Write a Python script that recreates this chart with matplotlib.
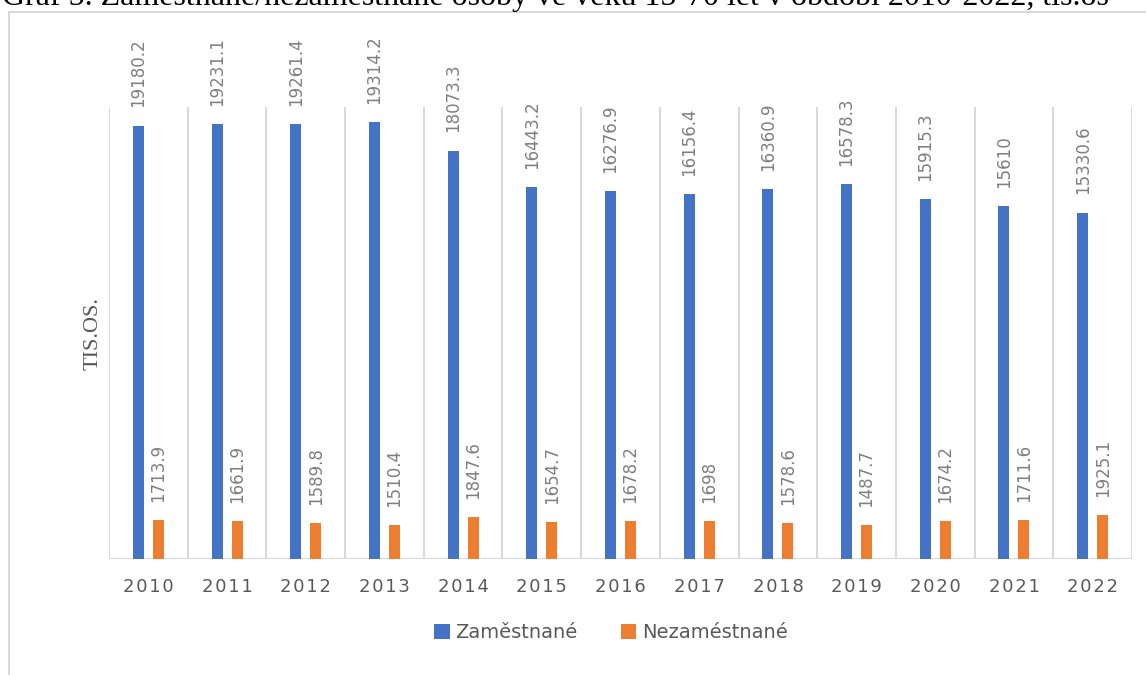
import matplotlib.pyplot as plt
import matplotlib.patches as patches
import numpy as np

# Data
years = ['2010', '2011', '2012', '2013', '2014', '2015', '2016',
         '2017', '2018', '2019', '2020', '2021', '2022']
employed = [19180.2, 19231.1, 19261.4, 19314.2, 18073.3, 16443.2, 16276.9,
            16156.4, 16360.9, 16578.3, 15915.3, 15610, 15330.6]
unemployed = [1713.9, 1661.9, 1589.8, 1510.4, 1847.6, 1654.7, 1678.2,
              1698, 1578.6, 1487.7, 1674.2, 1711.6, 1925.1]
labels_emp = ['19180.2', '19231.1', '19261.4', '19314.2', '18073.3', '16443.2', '16276.9',
              '16156.4', '16360.9', '16578.3', '15915.3', '15610', '15330.6']
labels_unemp = ['1713.9', '1661.9', '1589.8', '1510.4', '1847.6', '1654.7', '1678.2',
                '1698', '1578.6', '1487.7', '1674.2', '1711.6', '1925.1']

BLUE = '#4472C4'
ORANGE = '#ED7D31'
GRID = '#d9d9d9'
TXT = '#595959'

W, H = 1146, 675
fig = plt.figure(figsize=(W / 100, H / 100), dpi=100)
ax = fig.add_axes([109 / W, 1 - 559 / H, (1132 - 109) / W, (559 - 107) / H])

x = np.arange(len(years))
bw = 0.14
off = 0.127
ax.bar(x - off, employed, width=bw, color=BLUE, label='Zaměstnané', zorder=3)
ax.bar(x + off, unemployed, width=bw, color=ORANGE, label='Nezaméstnané', zorder=3)

for xi, v, t in zip(x, employed, labels_emp):
    ax.annotate(t, (xi - off, v), xytext=(0, 13), textcoords='offset points',
                rotation=90, ha='center', va='bottom', fontsize=12, color='#7f7f7f')
for xi, v, t in zip(x, unemployed, labels_unemp):
    ax.annotate(t, (xi + off, v), xytext=(0, 13), textcoords='offset points',
                rotation=90, ha='center', va='bottom', fontsize=12, color='#7f7f7f')

ax.set_xlim(-0.5, len(years) - 0.5)
ax.set_ylim(0, 20000)

# category separators
for b in np.arange(-0.5, len(years), 1.0):
    ax.axvline(b, color=GRID, lw=1.5, zorder=1)
ax.axhline(0, color=GRID, lw=1.5, zorder=2)

for s in ax.spines.values():
    s.set_visible(False)
ax.set_yticks([])
ax.set_xticks(x)
ax.set_xticklabels(['\u200a'.join(y) for y in years], fontsize=13, color=TXT)
ax.tick_params(axis='x', length=0, pad=14)

fig.text(93 / W, 1 - 334 / H, 'TIS.OS.', rotation=90, ha='center', va='center',
         fontsize=16, color=TXT, family='Liberation Serif')

fig.legend(loc='center', bbox_to_anchor=(611 / W, 1 - 633 / H), ncol=2, frameon=False,
           fontsize=14, handlelength=0.8, handleheight=0.8, handletextpad=0.3,
           columnspacing=2.2, labelcolor=TXT)

# chart frame (partly outside the picture)
fig.patches.append(patches.Rectangle((9 / W, -0.1), 1.2, 1 - 12 / H + 0.1,
                                     transform=fig.transFigure, fill=False,
                                     edgecolor=GRID, lw=1.5))

# page caption above the chart, cut by the top edge as in the source
fig.text(2 / W, 1 - 5 / H,
         'Graf 5. Zaměstnané/nezaměstnané osoby ve věku 15-70 let v období 2010-2022, tis.os',
         ha='left', va='baseline', fontsize=23, color='black', family='Liberation Serif')

fig.savefig('out.png', dpi=100, facecolor='white')
